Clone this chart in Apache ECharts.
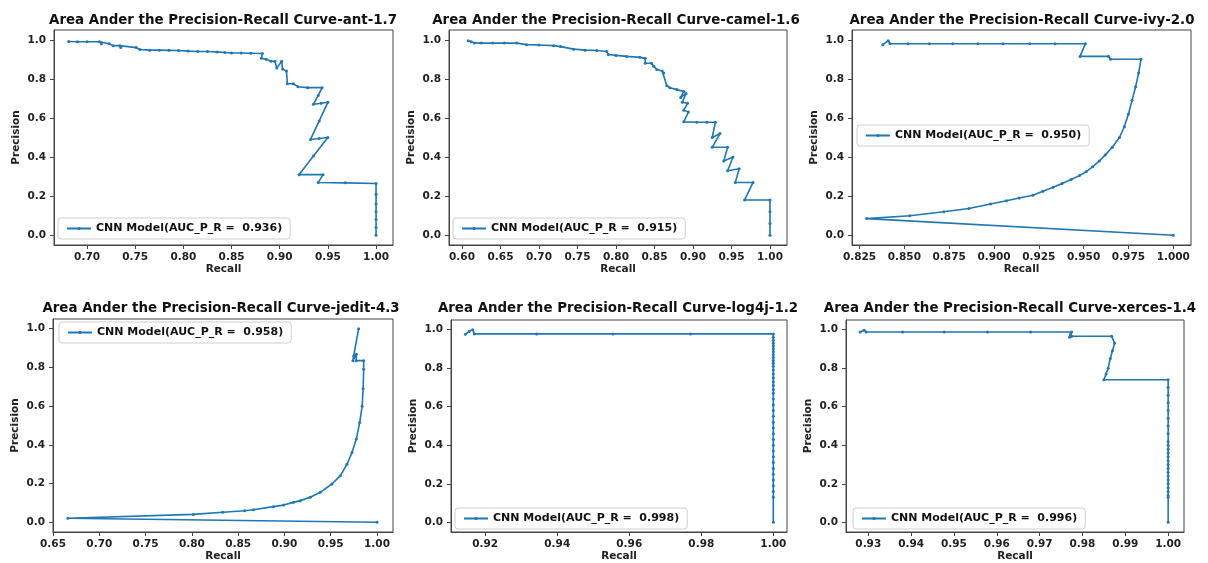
<!DOCTYPE html>
<html>
<head>
<meta charset="utf-8">
<script src="https://cdn.jsdelivr.net/npm/echarts@6/dist/echarts.min.js"></script>
<style>
    html, body { margin: 0; padding: 0; background: #fff; }
    #chart { width: 1208px; height: 563px; }
</style>
</head>
<body>
<div id="chart"></div>
<script>
// ---- data ----
const precisionTicks = [0.0, 0.2, 0.4, 0.6, 0.8, 1.0];

const antRecallTicks = [0.70, 0.75, 0.80, 0.85, 0.90, 0.95, 1.00];
const antRecall = [
    0.681, 0.690, 0.700, 0.713, 0.715, 0.723, 0.727, 0.734, 0.735, 0.751,
    0.755, 0.765, 0.775, 0.785, 0.795, 0.805, 0.815, 0.825, 0.835, 0.843,
    0.850, 0.860, 0.870, 0.882, 0.881, 0.886, 0.891, 0.895, 0.897, 0.902,
    0.903, 0.907, 0.908, 0.914, 0.919, 0.929, 0.944, 0.940, 0.935, 0.943,
    0.950, 0.941, 0.932, 0.941, 0.950, 0.935, 0.920, 0.945, 0.940, 0.968,
];
const antPrecision = [
    0.991, 0.990, 0.990, 0.990, 0.980, 0.980, 0.970, 0.970, 0.960, 0.960,
    0.950, 0.947, 0.947, 0.946, 0.945, 0.942, 0.940, 0.940, 0.938, 0.935,
    0.932, 0.932, 0.931, 0.930, 0.905, 0.900, 0.890, 0.890, 0.855, 0.890,
    0.850, 0.840, 0.775, 0.775, 0.760, 0.755, 0.755, 0.715, 0.670, 0.675,
    0.680, 0.585, 0.490, 0.495, 0.500, 0.405, 0.310, 0.310, 0.270, 0.268,
];
// points sitting on recall = 1.0
const antTailPrecision = [0.265, 0.210, 0.160, 0.120, 0.080, 0.040, 0.000];

const camelRecallTicks = [0.60, 0.65, 0.70, 0.75, 0.80, 0.85, 0.90, 0.95, 1.00];
const camelRecall = [
    0.608, 0.612, 0.616, 0.625, 0.640, 0.655, 0.671, 0.684, 0.700, 0.719,
    0.728, 0.745, 0.760, 0.775, 0.788, 0.790, 0.800, 0.814, 0.831, 0.838,
    0.838, 0.846, 0.849, 0.853, 0.860, 0.862, 0.866, 0.870, 0.879, 0.888,
    0.884, 0.891, 0.886, 0.893, 0.888, 0.894, 0.888, 0.905, 0.918, 0.929,
    0.925, 0.935, 0.925, 0.945, 0.940, 0.952, 0.945, 0.960, 0.955, 0.978,
    0.967,
];
const camelPrecision = [
    0.995, 0.990, 0.984, 0.983, 0.983, 0.983, 0.983, 0.975, 0.973, 0.970,
    0.965, 0.952, 0.947, 0.945, 0.940, 0.925, 0.920, 0.915, 0.910, 0.905,
    0.880, 0.880, 0.865, 0.848, 0.840, 0.830, 0.765, 0.755, 0.745, 0.735,
    0.705, 0.725, 0.680, 0.675, 0.640, 0.630, 0.580, 0.578, 0.578, 0.578,
    0.500, 0.520, 0.450, 0.450, 0.380, 0.400, 0.330, 0.340, 0.270, 0.270,
    0.180,
];
const camelTailPrecision = [0.180, 0.120, 0.060, 0.000];

const ivyRecallTicks = [0.825, 0.850, 0.875, 0.900, 0.925, 0.950, 0.975, 1.000];
const ivyRecall = [
    0.838, 0.841, 0.842, 0.852, 0.864, 0.877, 0.891, 0.905, 0.920, 0.934,
    0.951, 0.948, 0.964, 0.965, 0.982, 0.9807, 0.979, 0.977, 0.975, 0.9727,
    0.970, 0.966, 0.962, 0.9588, 0.955, 0.9514, 0.9477, 0.943, 0.938, 0.933,
    0.9273, 0.9217, 0.914, 0.907, 0.898, 0.886, 0.872, 0.853, 0.829,
];
const ivyPrecision = [
    0.975, 0.995, 0.980, 0.980, 0.980, 0.980, 0.980, 0.980, 0.980, 0.980,
    0.980, 0.915, 0.915, 0.900, 0.900, 0.830, 0.760, 0.690, 0.620, 0.555,
    0.500, 0.450, 0.410, 0.380, 0.350, 0.325, 0.305, 0.285, 0.265, 0.245,
    0.225, 0.205, 0.190, 0.176, 0.160, 0.137, 0.120, 0.100, 0.085,
];
const ivyTailPrecision = [0.000];

const jeditRecallTicks = [0.65, 0.70, 0.75, 0.80, 0.85, 0.90, 0.95, 1.00];
const jeditRecall = [
    0.9802, 0.9748, 0.9740, 0.9777, 0.9775, 0.9856, 0.9856, 0.9850, 0.9840, 0.9813,
    0.9777, 0.9730, 0.9676, 0.9603, 0.9513, 0.9387, 0.9279, 0.9171, 0.9098, 0.8990,
    0.8882, 0.8665, 0.8570, 0.8333, 0.8016, 0.6662,
];
const jeditPrecision = [
    1.000, 0.859, 0.835, 0.868, 0.835, 0.835, 0.790, 0.690, 0.600, 0.515,
    0.430, 0.360, 0.300, 0.240, 0.198, 0.155, 0.129, 0.112, 0.103, 0.089,
    0.081, 0.065, 0.060, 0.052, 0.041, 0.021,
];
const jeditTailPrecision = [0.000];

const log4jRecallTicks = [0.92, 0.94, 0.96, 0.98, 1.00];
const log4jRecall = [0.9145, 0.9155, 0.9165, 0.9170, 0.9343, 0.9555, 0.9770];
const log4jPrecision = [0.976, 0.990, 1.000, 0.978, 0.978, 0.978, 0.978];
const log4jTailPrecision = [
    0.978, 0.960, 0.945, 0.930, 0.915, 0.900, 0.885, 0.870, 0.855, 0.840,
    0.825, 0.810, 0.790, 0.770, 0.750, 0.730, 0.710, 0.690, 0.670, 0.640,
    0.610, 0.580, 0.550, 0.520, 0.490, 0.460, 0.430, 0.400, 0.370, 0.340,
    0.310, 0.280, 0.250, 0.220, 0.190, 0.160, 0.130, 0.000,
];

const xercesRecallTicks = [0.93, 0.94, 0.95, 0.96, 0.97, 0.98, 0.99, 1.00];
const xercesRecall = [
    0.9281, 0.9290, 0.9295, 0.9380, 0.9477, 0.9578, 0.9679, 0.9775, 0.9772, 0.9770,
    0.9775, 0.9868, 0.9875, 0.9870, 0.9865, 0.9860, 0.9855, 0.9850,
];
const xercesPrecision = [
    0.988, 0.997, 0.988, 0.988, 0.988, 0.988, 0.988, 0.988, 0.975, 0.960,
    0.966, 0.966, 0.930, 0.890, 0.850, 0.800, 0.770, 0.740,
];
const xercesTailPrecision = [
    0.740, 0.700, 0.660, 0.620, 0.580, 0.540, 0.500, 0.460, 0.420, 0.400,
    0.380, 0.360, 0.340, 0.320, 0.300, 0.280, 0.260, 0.240, 0.220, 0.200,
    0.180, 0.160, 0.140, 0.130, 0.000,
];

// ---- layout of the 2x3 panels (pixels) ----
const panels = [
    {name: 'ant-1.7', auc: '0.936', recall: antRecall, precision: antPrecision, tail: antTailPrecision,
        ticks: antRecallTicks, digits: 2, xMin: 0.6657, xMax: 1.0176,
        box: [54, 30, 339, 215], legend: [58, 218], title: [223, 21]},
    {name: 'camel-1.6', auc: '0.915', recall: camelRecall, precision: camelPrecision, tail: camelTailPrecision,
        ticks: camelRecallTicks, digits: 2, xMin: 0.5831, xMax: 1.0221,
        box: [449, 30, 338, 215], legend: [453, 218], title: [616, 21]},
    {name: 'ivy-2.0', auc: '0.950', recall: ivyRecall, precision: ivyPrecision, tail: ivyTailPrecision,
        ticks: ivyRecallTicks, digits: 3, xMin: 0.8208, xMax: 1.0099,
        box: [852, 30, 339, 215], legend: [857, 125], title: [1022, 21]},
    {name: 'jedit-4.3', auc: '0.958', recall: jeditRecall, precision: jeditPrecision, tail: jeditTailPrecision,
        ticks: jeditRecallTicks, digits: 2, xMin: 0.65, xMax: 1.0173,
        box: [53, 319, 340, 214], legend: [59, 322], title: [221, 309]},
    {name: 'log4j-1.2', auc: '0.998', recall: log4jRecall, precision: log4jPrecision, tail: log4jTailPrecision,
        ticks: log4jRecallTicks, digits: 2, xMin: 0.9105, xMax: 1.0038,
        box: [451, 320, 336, 214], legend: [455, 508], title: [618, 309]},
    {name: 'xerces-1.4', auc: '0.996', recall: xercesRecall, precision: xercesPrecision, tail: xercesTailPrecision,
        ticks: xercesRecallTicks, digits: 2, xMin: 0.9248, xMax: 1.0037,
        box: [846, 320, 338, 214], legend: [853, 508], title: [1010, 309]},
];

const FONT = 'DejaVu Sans';
const LINE_COLOR = '#1f77b4';
const FRAME_COLOR = '#444';
const textStyle = {fontFamily: FONT, fontWeight: 'bold', fontSize: 10.5, color: '#222'};

const seriesName = p => `CNN Model(AUC_P_R =  ${p.auc})`;

const chart = echarts.init(document.getElementById('chart'), null, {renderer: 'canvas'});

chart.setOption({
    animation: false,
    backgroundColor: '#fff',
    grid: panels.map(p => ({
        left: p.box[0], top: p.box[1], width: p.box[2], height: p.box[3],
        show: true, borderColor: FRAME_COLOR, borderWidth: 1, backgroundColor: 'transparent',
    })),
    xAxis: panels.map((p, i) => ({
        type: 'value',
        gridIndex: i,
        min: p.xMin,
        max: p.xMax,
        name: 'Recall',
        nameLocation: 'middle',
        nameGap: 19,
        nameTextStyle: textStyle,
        splitLine: {show: false},
        axisLine: {show: true, onZero: false, lineStyle: {color: FRAME_COLOR, width: 1}},
        axisTick: {show: true, inside: false, length: 4, customValues: p.ticks, lineStyle: {color: FRAME_COLOR}},
        axisLabel: {...textStyle, margin: 7, customValues: p.ticks, formatter: v => v.toFixed(p.digits)},
    })),
    yAxis: panels.map((p, i) => ({
        type: 'value',
        gridIndex: i,
        min: -0.05,
        max: 1.05,
        name: 'Precision',
        nameLocation: 'middle',
        nameRotate: 90,
        nameGap: 32,
        nameTextStyle: textStyle,
        splitLine: {show: false},
        axisLine: {show: true, onZero: false, lineStyle: {color: FRAME_COLOR, width: 1}},
        axisTick: {show: true, inside: false, length: 4, customValues: precisionTicks, lineStyle: {color: FRAME_COLOR}},
        axisLabel: {...textStyle, margin: 8, customValues: precisionTicks, formatter: v => v.toFixed(1)},
    })),
    legend: panels.map(p => ({
        data: [seriesName(p)],
        left: p.legend[0],
        top: p.legend[1],
        padding: [5, 8],
        itemWidth: 24,
        itemHeight: 4,
        borderColor: '#cfcfcf',
        borderWidth: 1,
        borderRadius: 3,
        backgroundColor: 'rgba(255,255,255,0.85)',
        selectedMode: false,
        textStyle: {...textStyle, fontSize: 11, color: '#111'},
    })),
    graphic: panels.map(p => ({
        type: 'text',
        x: p.title[0],
        y: p.title[1],
        style: {
            text: 'Area Ander the Precision-Recall Curve-' + p.name,
            font: `bold 13.4px "${FONT}"`,
            fill: '#111',
            align: 'center',
            verticalAlign: 'middle',
        },
    })),
    series: panels.map((p, i) => ({
        name: seriesName(p),
        type: 'line',
        xAxisIndex: i,
        yAxisIndex: i,
        symbol: 'circle',
        symbolSize: 3,
        showAllSymbol: true,
        color: LINE_COLOR,
        lineStyle: {color: LINE_COLOR, width: 1.6},
        itemStyle: {color: LINE_COLOR},
        data: p.recall.map((r, k) => [r, p.precision[k]]).concat(p.tail.map(v => [1.0, v])),
    })),
});
</script>
</body>
</html>
